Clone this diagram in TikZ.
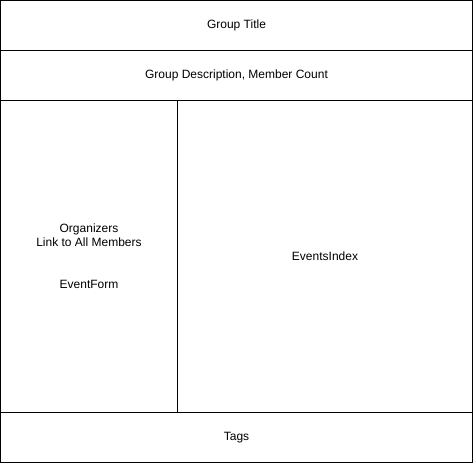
\documentclass[tikz,border=0pt]{standalone}
\usepackage{fontspec}
\setmainfont{Liberation Sans}
\begin{document}
\begin{tikzpicture}[x=1pt,y=-1pt,
  panel/.style={draw=black,line width=1pt,inner sep=0pt,font=\fontsize{12}{14}\selectfont,align=center}]
\useasboundingbox (0,0) rectangle (473,463);
\fill[white] (0,0) rectangle (473,463);
\node[panel,minimum width=472pt,minimum height=50pt] (title) at (236.5,25.5) {Group Title};
\node[panel,minimum width=472pt,minimum height=50pt] (desc) at (236.5,75.5) {Group Description, Member Count};
\node[panel,minimum width=177pt,minimum height=312pt] (left) at (89,256.5) {Organizers\\Link to All Members\\[14pt]\rule{0pt}{0pt}\\EventForm};
\node[panel,minimum width=295pt,minimum height=312pt] (right) at (325,256.5) {EventsIndex};
\node[panel,minimum width=472pt,minimum height=50pt] (tags) at (236.5,437.5) {Tags};
\end{tikzpicture}
\end{document}
